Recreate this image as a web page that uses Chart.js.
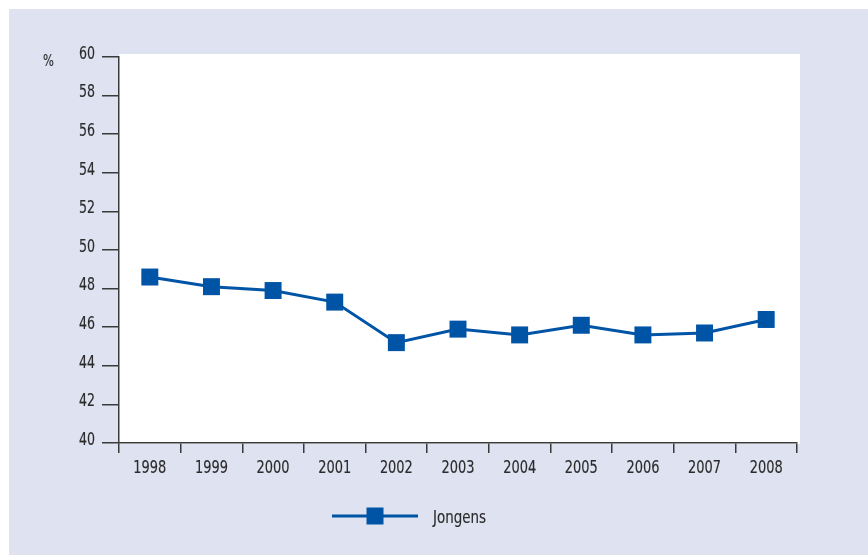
<!DOCTYPE html>
<html>
<head>
<meta charset="utf-8">
<script src="https://cdn.jsdelivr.net/npm/chart.js@4/dist/chart.umd.min.js"></script>
<style>
  html, body { margin: 0; padding: 0; background: #ffffff; }
  #wrap { position: relative; width: 868px; height: 555px; }
</style>
</head>
<body>
<div id="wrap"><canvas id="c" width="868" height="555"></canvas></div>
<script>
const years = ['1998','1999','2000','2001','2002','2003','2004','2005','2006','2007','2008'];
const jongens = [48.6, 48.1, 47.9, 47.3, 45.2, 45.9, 45.6, 46.1, 45.6, 45.7, 46.4];
const seriesName = 'Jongens';
const yMin = 40, yMax = 60, yStep = 2;
const unitLabel = '%';

const FONT = "'DejaVu Sans Condensed', 'DejaVu Sans', sans-serif";
const BLUE = '#0054a6';
const TEXT = '#2b2b2b';
const AXIS = '#3a3a3a';
const BG = '#dfe3f1';
const SX = 0.8; // horizontal compression to mimic the condensed face

function drawText(ctx, text, x, y, align, size, sx) {
  ctx.save();
  ctx.font = size + 'px ' + FONT;
  ctx.textBaseline = 'alphabetic';
  const w = ctx.measureText(text).width * sx;
  let left = x;
  if (align === 'right') left = x - w;
  else if (align === 'center') left = x - w / 2;
  ctx.translate(left, y);
  ctx.scale(sx, 1);
  ctx.textAlign = 'left';
  ctx.fillText(text, 0, 0);
  ctx.lineWidth = 0.15;
  ctx.strokeStyle = ctx.fillStyle;
  ctx.strokeText(text, 0, 0);
  ctx.restore();
}

const decor = {
  id: 'decor',
  beforeDraw(chart) {
    const ctx = chart.ctx, a = chart.chartArea;
    ctx.save();
    ctx.fillStyle = '#ffffff';
    ctx.fillRect(0, 0, chart.width, chart.height);
    ctx.fillStyle = BG;
    ctx.fillRect(9, 9, chart.width - 9, chart.height - 9);
    ctx.fillStyle = '#ffffff';
    ctx.fillRect(a.left, a.top - 3, a.right - a.left + 3, a.bottom - a.top + 4);
    ctx.restore();
  },
  afterDraw(chart) {
    const ctx = chart.ctx, a = chart.chartArea;
    const ds = chart.data.datasets[0];
    const xs = chart.scales.x, ys = chart.scales.y;
    ctx.save();
    ctx.fillStyle = TEXT;
    xs.ticks.forEach((t, i) => {
      drawText(ctx, String(xs.getLabelForValue(t.value)), xs.getPixelForTick(i), a.bottom + 29.5, 'center', 18, SX);
    });
    ys.ticks.forEach((t, i) => {
      drawText(ctx, String(t.value), a.left - 24, ys.getPixelForTick(i) + 1.8, 'right', 17.5, SX);
    });
    drawText(ctx, unitLabel, 48.5, 66, 'center', 15, 0.85);
    const ly = 516;
    ctx.strokeStyle = ds.borderColor;
    ctx.lineWidth = ds.borderWidth;
    ctx.beginPath();
    ctx.moveTo(332, ly);
    ctx.lineTo(418, ly);
    ctx.stroke();
    ctx.fillStyle = ds.pointBackgroundColor;
    ctx.fillRect(375 - 8.5, ly - 8.5, 17, 17);
    ctx.fillStyle = TEXT;
    drawText(ctx, ds.label, 433, ly + 6.5, 'left', 18, 0.83);
    ctx.restore();
  }
};

new Chart(document.getElementById('c'), {
  type: 'line',
  data: {
    labels: years,
    datasets: [{
      label: seriesName,
      data: jongens,
      borderColor: BLUE,
      borderWidth: 3,
      backgroundColor: BLUE,
      pointBackgroundColor: BLUE,
      pointBorderColor: BLUE,
      pointBorderWidth: 0,
      pointStyle: 'rect',
      pointRadius: 12,
      pointHoverRadius: 12,
      tension: 0
    }]
  },
  options: {
    responsive: false,
    animation: false,
    events: [],
    layout: { padding: { left: 0, right: 71, top: 57, bottom: 72 } },
    plugins: { legend: { display: false }, tooltip: { enabled: false }, title: { display: false } },
    scales: {
      x: {
        type: 'category',
        offset: true,
        grid: { offset: true, drawOnChartArea: false, drawTicks: true, tickLength: 10, color: AXIS, lineWidth: 1.5 },
        border: { display: true, color: AXIS, width: 1.5 },
        ticks: { color: 'rgba(0,0,0,0)', font: { family: FONT, size: 17 }, padding: 4, maxRotation: 0, autoSkip: false },
        afterFit(scale) { scale.height = 40; }
      },
      y: {
        min: yMin, max: yMax,
        grid: { drawOnChartArea: false, drawTicks: true, tickLength: 17, color: AXIS, lineWidth: 1.5 },
        border: { display: true, color: AXIS, width: 1.5 },
        ticks: { stepSize: yStep, color: 'rgba(0,0,0,0)', font: { family: FONT, size: 17 }, padding: 6 },
        afterFit(scale) { scale.width = 119; }
      }
    }
  },
  plugins: [decor]
});
</script>
</body>
</html>
